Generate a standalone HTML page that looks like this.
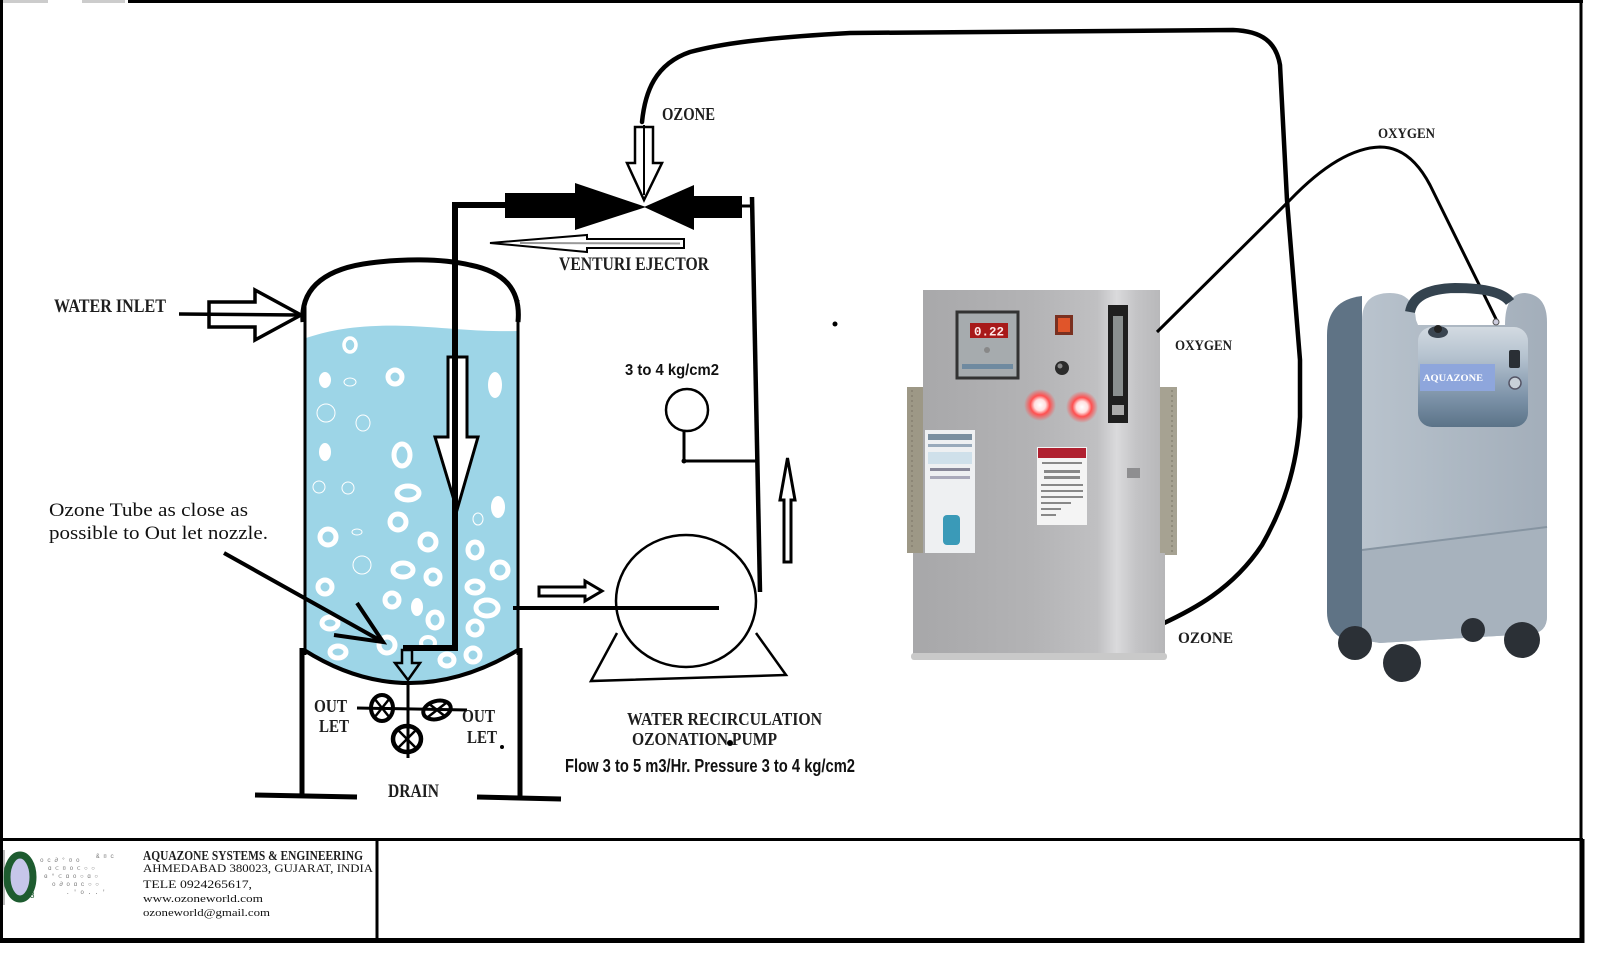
<!DOCTYPE html>
<html>
<head>
<meta charset="utf-8">
<style>
html,body{margin:0;padding:0;background:#fff;}
svg{display:block;}
.d{font-family:"Liberation Serif",serif;font-weight:bold;fill:#1e1e1e;}
.s{font-family:"Liberation Sans",sans-serif;font-weight:bold;fill:#111;}
.r{font-family:"Liberation Serif",serif;fill:#111;}
</style>
</head>
<body>
<svg width="1600" height="962" viewBox="0 0 1600 962" xmlns="http://www.w3.org/2000/svg">
<defs>
  <linearGradient id="panel" x1="923" y1="0" x2="1165" y2="0" gradientUnits="userSpaceOnUse">
    <stop offset="0" stop-color="#a8a8aa"/>
    <stop offset="0.45" stop-color="#b3b3b5"/>
    <stop offset="0.72" stop-color="#c0c0c2"/>
    <stop offset="0.8" stop-color="#dadadc"/>
    <stop offset="0.88" stop-color="#c4c4c6"/>
    <stop offset="1" stop-color="#b6b6b8"/>
  </linearGradient>
  <radialGradient id="glow">
    <stop offset="0" stop-color="#ffffff"/>
    <stop offset="0.35" stop-color="#ffe0e0"/>
    <stop offset="0.6" stop-color="#ff5050"/>
    <stop offset="1" stop-color="#ff5050" stop-opacity="0"/>
  </radialGradient>
  <linearGradient id="front" x1="0" y1="0" x2="1" y2="0">
    <stop offset="0" stop-color="#b9c3cd"/>
    <stop offset="0.5" stop-color="#adb8c3"/>
    <stop offset="1" stop-color="#a3aeba"/>
  </linearGradient>
  <linearGradient id="cpanel" x1="0" y1="0" x2="0" y2="1">
    <stop offset="0" stop-color="#d3dae1"/>
    <stop offset="0.3" stop-color="#b5c2cf"/>
    <stop offset="0.7" stop-color="#7d93a9"/>
    <stop offset="1" stop-color="#5b7388"/>
  </linearGradient>
</defs>

<!-- outer border -->
<line x1="128" y1="1.5" x2="1583" y2="1.5" stroke="#000" stroke-width="3"/>
<line x1="0" y1="1.5" x2="48" y2="1.5" stroke="#ccc" stroke-width="3"/>
<line x1="82" y1="1.5" x2="125" y2="1.5" stroke="#ccc" stroke-width="3"/>
<line x1="1.5" y1="0" x2="1.5" y2="943" stroke="#000" stroke-width="3"/>
<line x1="1581" y1="0" x2="1581" y2="943" stroke="#000" stroke-width="3"/>
<line x1="1582" y1="839" x2="1582" y2="943" stroke="#000" stroke-width="5"/>
<line x1="0" y1="839.5" x2="1583" y2="839.5" stroke="#000" stroke-width="3"/>
<line x1="0" y1="940.5" x2="1584" y2="940.5" stroke="#000" stroke-width="5"/>
<line x1="377" y1="839" x2="377" y2="940" stroke="#000" stroke-width="3"/>
<line x1="4" y1="850" x2="4" y2="905" stroke="#777" stroke-width="1"/>

<!-- ozone hose (top) -->
<path d="M642,122 C645,92 655,64 690,52 C720,44 760,38 850,33 L1233,30 C1262,31 1276,42 1280,65 L1287,200 L1300,360 L1300,417 C1297,470 1282,510 1262,545 C1232,590 1192,610 1162,624" fill="none" stroke="#000" stroke-width="4.5" stroke-linecap="round"/>

<!-- ozone down arrow -->
<path d="M635,127 L653,127 L653,163 L662,163 L644,200 L627,163 L635,163 Z" fill="#fff" stroke="#000" stroke-width="2.5" stroke-linejoin="miter"/>
<line x1="644" y1="125" x2="644" y2="195" stroke="#000" stroke-width="2"/>
<text x="662" y="120" class="d" font-size="18" textLength="53" lengthAdjust="spacingAndGlyphs">OZONE</text>

<!-- venturi -->
<rect x="505" y="193" width="72" height="25" fill="#000"/>
<polygon points="575,183 575,230 646,207" fill="#000"/>
<polygon points="694,185 694,230 644,207" fill="#000"/>
<rect x="694" y="196" width="48" height="22" fill="#000"/>
<path d="M740,206 L752,206" stroke="#000" stroke-width="3"/>
<!-- right vertical pipe -->
<path d="M752,197 L760,592" stroke="#000" stroke-width="4.5" fill="none"/>

<!-- venturi direction arrow -->
<polygon points="490,243 587,235 587,239 684,239 684,248 587,248 587,252" fill="#fff" stroke="#000" stroke-width="2"/>
<line x1="520" y1="243" x2="680" y2="243.5" stroke="#999" stroke-width="2"/>
<text x="559" y="270" class="d" font-size="19" textLength="150" lengthAdjust="spacingAndGlyphs">VENTURI EJECTOR</text>

<!-- tank water -->
<path d="M306,338 C330,330 360,324 410,326 C450,328 480,332 517,331 L517,652 Q408,716 306,652 Z" fill="#9dd5e7"/>
<!-- bubbles thick rings -->
<g fill="none" stroke="#fff">
  <ellipse cx="350" cy="345" rx="6" ry="7" stroke-width="3.5"/>
  <ellipse cx="395" cy="377" rx="7" ry="7" stroke-width="5"/>
  <ellipse cx="402" cy="455" rx="8" ry="11" stroke-width="5"/>
  <ellipse cx="408" cy="493" rx="11" ry="7" stroke-width="5"/>
  <ellipse cx="398" cy="522" rx="8" ry="8" stroke-width="5"/>
  <ellipse cx="328" cy="537" rx="8" ry="8" stroke-width="5"/>
  <ellipse cx="428" cy="542" rx="8" ry="8" stroke-width="5"/>
  <ellipse cx="403" cy="570" rx="10" ry="7" stroke-width="5"/>
  <ellipse cx="475" cy="550" rx="7" ry="8" stroke-width="5"/>
  <ellipse cx="500" cy="570" rx="8" ry="8" stroke-width="5"/>
  <ellipse cx="325" cy="587" rx="7" ry="7" stroke-width="5"/>
  <ellipse cx="433" cy="577" rx="7" ry="7" stroke-width="5"/>
  <ellipse cx="475" cy="587" rx="8" ry="6" stroke-width="5"/>
  <ellipse cx="392" cy="600" rx="7" ry="7" stroke-width="5"/>
  <ellipse cx="487" cy="608" rx="11" ry="8" stroke-width="5"/>
  <ellipse cx="435" cy="620" rx="7" ry="8" stroke-width="5"/>
  <ellipse cx="475" cy="628" rx="7" ry="7" stroke-width="5"/>
  <ellipse cx="330" cy="623" rx="8" ry="6" stroke-width="5"/>
  <ellipse cx="338" cy="652" rx="8" ry="6" stroke-width="5"/>
  <ellipse cx="387" cy="645" rx="8" ry="8" stroke-width="5"/>
  <ellipse cx="447" cy="660" rx="7" ry="6" stroke-width="5"/>
  <ellipse cx="473" cy="655" rx="7" ry="7" stroke-width="5"/>
  <ellipse cx="428" cy="643" rx="7" ry="6" stroke-width="4"/>
  <ellipse cx="350" cy="382" rx="6" ry="4" stroke-width="1"/>
  <ellipse cx="326" cy="413" rx="9" ry="9" stroke-width="1"/>
  <ellipse cx="363" cy="423" rx="7" ry="8" stroke-width="1"/>
  <ellipse cx="319" cy="487" rx="6" ry="6" stroke-width="1"/>
  <ellipse cx="348" cy="488" rx="6" ry="6" stroke-width="1"/>
  <ellipse cx="478" cy="519" rx="5" ry="6" stroke-width="1"/>
  <ellipse cx="357" cy="532" rx="5" ry="3" stroke-width="1"/>
  <ellipse cx="362" cy="565" rx="9" ry="9" stroke-width="1"/>
</g>
<g fill="#fff">
  <ellipse cx="325" cy="380" rx="6" ry="8"/>
  <ellipse cx="495" cy="385" rx="7" ry="13"/>
  <ellipse cx="325" cy="452" rx="6" ry="9"/>
  <ellipse cx="498" cy="507" rx="7" ry="11"/>
  <ellipse cx="417" cy="607" rx="6" ry="9"/>
</g>

<!-- tank outline -->
<path d="M303,322 C300,285 330,268 370,263 C400,259 440,258 470,265 C505,272 521,290 518,322" fill="none" stroke="#000" stroke-width="5"/>
<line x1="305" y1="300" x2="305" y2="655" stroke="#000" stroke-width="3"/>
<line x1="518" y1="300" x2="518" y2="655" stroke="#000" stroke-width="3"/>
<path d="M304,650 Q408,716 518,650" fill="none" stroke="#000" stroke-width="4"/>
<line x1="302" y1="648" x2="302" y2="798" stroke="#000" stroke-width="5"/>
<line x1="520" y1="648" x2="520" y2="800" stroke="#000" stroke-width="5"/>
<line x1="255" y1="795" x2="357" y2="797" stroke="#000" stroke-width="5"/>
<line x1="477" y1="797" x2="561" y2="799" stroke="#000" stroke-width="5"/>

<!-- big hollow arrow in tank -->
<path d="M448,357 L467,357 L467,437 L478,437 L457,510 L435,437 L448,437 Z" fill="#fff" stroke="#000" stroke-width="3"/>
<!-- ozone tube -->
<path d="M505,205 L455,205 L455,648 L403,648" fill="none" stroke="#000" stroke-width="6" stroke-linejoin="miter"/>
<!-- small down arrow -->
<path d="M402,650 L412,650 L412,663 L420,663 L408,680 L395,663 L402,663 Z" fill="none" stroke="#000" stroke-width="2.5"/>

<!-- water inlet -->
<text x="54" y="312" class="d" font-size="19" textLength="112" lengthAdjust="spacingAndGlyphs">WATER INLET</text>
<path d="M209,302 L255,302 L255,290 L301,315 L255,340 L255,327 L209,327 Z" fill="#fff" stroke="#000" stroke-width="3.5" stroke-linejoin="miter"/>
<line x1="179" y1="314" x2="299" y2="315" stroke="#000" stroke-width="3.5"/>

<!-- note -->
<text x="49" y="516" class="r" font-size="19" textLength="199" lengthAdjust="spacingAndGlyphs">Ozone Tube as close as</text>
<text x="49" y="539" class="r" font-size="19" textLength="219" lengthAdjust="spacingAndGlyphs">possible to Out let nozzle.</text>
<path d="M224,553 L383,642" stroke="#000" stroke-width="4" fill="none"/>
<path d="M357,603 L383,642 L334,635" stroke="#000" stroke-width="4" fill="none"/>

<!-- valves -->
<line x1="357" y1="708" x2="467" y2="710" stroke="#000" stroke-width="3"/>
<line x1="408" y1="682" x2="408" y2="758" stroke="#000" stroke-width="3"/>
<g fill="none" stroke="#000">
  <ellipse cx="382" cy="708" rx="11" ry="13" stroke-width="4"/>
  <line x1="374" y1="698" x2="390" y2="718" stroke-width="2.5"/>
  <line x1="390" y1="698" x2="374" y2="718" stroke-width="2.5"/>
  <ellipse cx="437" cy="710" rx="14" ry="9" stroke-width="4" transform="rotate(-15 437 710)"/>
  <line x1="428" y1="703" x2="446" y2="717" stroke-width="2.5"/>
  <line x1="446" y1="703" x2="428" y2="717" stroke-width="2.5"/>
  <ellipse cx="407" cy="739" rx="14" ry="13" stroke-width="4.5"/>
  <line x1="398" y1="730" x2="416" y2="748" stroke-width="2.5"/>
  <line x1="416" y1="730" x2="398" y2="748" stroke-width="2.5"/>
</g>
<text x="314" y="712" class="d" font-size="18" textLength="33" lengthAdjust="spacingAndGlyphs">OUT</text>
<text x="319" y="732" class="d" font-size="18" textLength="30" lengthAdjust="spacingAndGlyphs">LET</text>
<text x="462" y="722" class="d" font-size="18" textLength="33" lengthAdjust="spacingAndGlyphs">OUT</text>
<text x="467" y="743" class="d" font-size="18" textLength="30" lengthAdjust="spacingAndGlyphs">LET</text>
<circle cx="502" cy="747" r="2" fill="#000"/>
<text x="388" y="797" class="d" font-size="19" textLength="51" lengthAdjust="spacingAndGlyphs">DRAIN</text>

<!-- gauge -->
<text x="625" y="375" class="s" font-size="16" textLength="94" lengthAdjust="spacingAndGlyphs">3 to 4 kg/cm2</text>
<circle cx="687" cy="410" r="21" fill="none" stroke="#000" stroke-width="2.5"/>
<path d="M684,431 L684,461 L756,461" fill="none" stroke="#000" stroke-width="3"/>
<circle cx="684" cy="461" r="2.5" fill="#000"/>

<!-- up arrow -->
<path d="M784,500 L780,500 L787.5,458 L795,500 L791,500 L791,562 L784,562 Z" fill="#fff" stroke="#000" stroke-width="3"/>

<!-- pump -->
<path d="M539,587 L585,587 L585,581 L602,591 L585,601 L585,596 L539,596 Z" fill="#fff" stroke="#000" stroke-width="3"/>
<ellipse cx="686" cy="601" rx="70" ry="66" fill="none" stroke="#000" stroke-width="2.5"/>
<line x1="513" y1="608" x2="719" y2="608" stroke="#000" stroke-width="4"/>
<path d="M617,633 L591,681 L786,675 L756,633" fill="none" stroke="#000" stroke-width="2.5"/>
<text x="627" y="725" class="d" font-size="18" textLength="195" lengthAdjust="spacingAndGlyphs">WATER RECIRCULATION</text>
<text x="632" y="745" class="d" font-size="18" textLength="145" lengthAdjust="spacingAndGlyphs">OZONATION PUMP</text>
<circle cx="730" cy="743" r="3" fill="#000"/>
<text x="565" y="772" class="s" font-size="18" textLength="290" lengthAdjust="spacingAndGlyphs">Flow 3 to 5 m3/Hr. Pressure 3 to 4 kg/cm2</text>

<circle cx="835" cy="324" r="2.5" fill="#000"/>

<!-- ozone generator panel -->
<rect x="907" y="387" width="18" height="166" fill="#9d9886"/>
<rect x="1158" y="387" width="19" height="168" fill="#a6a292"/>
<g stroke="#7b7566" stroke-width="1" stroke-dasharray="2 3">
  <line x1="912" y1="390" x2="912" y2="550"/>
  <line x1="1172" y1="390" x2="1172" y2="552"/>
</g>
<rect x="923" y="290" width="237" height="265" fill="url(#panel)"/>
<rect x="913" y="553" width="252" height="102" fill="url(#panel)"/>
<rect x="911" y="653" width="256" height="7" rx="3" fill="#c9c9c9"/>
<!-- display -->
<rect x="957" y="312" width="61" height="66" fill="#a6abae" stroke="#333" stroke-width="3"/>
<rect x="970" y="323" width="38" height="15" fill="#a81a1a"/>
<text x="974" y="335.5" font-family="Liberation Mono,monospace" font-weight="bold" font-size="13" fill="#ffe8e8" textLength="30" lengthAdjust="spacingAndGlyphs">0.22</text>
<circle cx="987" cy="350" r="3" fill="#888"/>
<rect x="962" y="364" width="51" height="5" fill="#6f8aa0"/>
<!-- switch -->
<rect x="1055" y="315" width="18" height="20" fill="#7a3020"/>
<rect x="1058" y="318" width="12" height="14" fill="#e0552a"/>
<circle cx="1062" cy="368" r="7" fill="#2b2b2b"/>
<circle cx="1060" cy="366" r="2.5" fill="#888"/>
<!-- lights -->
<circle cx="1040" cy="405" r="16" fill="url(#glow)"/>
<circle cx="1082" cy="407" r="16" fill="url(#glow)"/>
<!-- flowmeter -->
<rect x="1108" y="305" width="20" height="118" fill="#1f1f1f"/>
<rect x="1113" y="316" width="10" height="80" fill="#8a8f8f"/>
<rect x="1112" y="405" width="12" height="10" fill="#aaa"/>
<!-- labels -->
<rect x="925" y="430" width="50" height="123" fill="#eef0f2"/>
<rect x="928" y="434" width="44" height="6" fill="#7a8fa0"/>
<rect x="928" y="444" width="44" height="3" fill="#9ab"/>
<rect x="928" y="452" width="44" height="12" fill="#cfe0ea"/>
<rect x="930" y="468" width="40" height="3" fill="#889"/>
<rect x="930" y="476" width="40" height="3" fill="#aab"/>
<rect x="943" y="515" width="17" height="30" rx="4" fill="#3a9ab8"/>
<rect x="1037" y="447" width="50" height="78" fill="#f4f4f4"/>
<rect x="1038" y="448" width="48" height="10" fill="#b02030"/>
<g fill="#888">
  <rect x="1042" y="462" width="40" height="2"/>
  <rect x="1044" y="470" width="36" height="3"/>
  <rect x="1044" y="476" width="36" height="3"/>
  <rect x="1041" y="484" width="42" height="2"/>
  <rect x="1041" y="490" width="42" height="2"/>
  <rect x="1041" y="496" width="42" height="2"/>
  <rect x="1041" y="502" width="30" height="2"/>
  <rect x="1041" y="508" width="20" height="2"/>
  <rect x="1041" y="514" width="15" height="2"/>
</g>
<rect x="1127" y="468" width="13" height="10" fill="#8e8e90"/>

<!-- oxygen hose -->
<path d="M1157,332 L1290,200 Q1340,148 1380,147 Q1410,147 1430,185 L1497,321" fill="none" stroke="#000" stroke-width="3"/>
<text x="1378" y="138" class="d" font-size="15" textLength="57" lengthAdjust="spacingAndGlyphs">OXYGEN</text>
<text x="1175" y="350" class="d" font-size="15" textLength="57" lengthAdjust="spacingAndGlyphs">OXYGEN</text>
<text x="1178" y="643" class="d" font-size="16" textLength="55" lengthAdjust="spacingAndGlyphs">OZONE</text>

<!-- oxygen concentrator -->
<path d="M1327,335 Q1327,300 1362,296 L1362,640 L1345,640 Q1327,632 1327,612 Z" fill="#5f7385"/>
<path d="M1362,640 L1362,320 Q1362,293 1390,293 Q1414,293 1416,320 L1418,325 L1505,325 Q1505,293 1525,293 Q1547,295 1547,322 L1547,616 Q1547,633 1530,634 L1380,643 Z" fill="url(#front)"/>
<path d="M1362,550 L1547,527 L1547,616 Q1547,633 1530,634 L1380,643 L1362,640 Z" fill="#a7b2bd"/>
<line x1="1362" y1="550" x2="1547" y2="527" stroke="#8694a1" stroke-width="2"/>
<path d="M1410,312 Q1414,289 1455,288 Q1500,288 1510,302" fill="none" stroke="#34434f" stroke-width="10"/>
<rect x="1418" y="327" width="110" height="100" rx="14" fill="url(#cpanel)"/>
<rect x="1420" y="364" width="75" height="27" fill="#8ea6dc"/>
<text x="1423" y="381" font-family="Liberation Serif,serif" font-weight="bold" font-size="9" fill="#fff" textLength="60" lengthAdjust="spacingAndGlyphs">AQUAZONE</text>
<ellipse cx="1438" cy="332" rx="10" ry="6" fill="#3a4550"/>
<ellipse cx="1438" cy="329" rx="4" ry="4" fill="#222"/>
<circle cx="1496" cy="322" r="3" fill="#ccd" stroke="#555"/>
<rect x="1509" y="350" width="11" height="18" rx="2" fill="#2a2f35"/>
<circle cx="1515" cy="383" r="6" fill="#c8d0d8" stroke="#556" stroke-width="1.5"/>
<circle cx="1473" cy="630" r="12" fill="#2b3036"/>
<circle cx="1355" cy="643" r="17" fill="#2b3036"/>
<circle cx="1402" cy="663" r="19" fill="#2b3036"/>
<circle cx="1522" cy="640" r="18" fill="#2b3036"/>

<!-- footer logo -->
<ellipse cx="20" cy="877" rx="13" ry="22" fill="#c6c6ea" stroke="#1d5b2f" stroke-width="7"/>
<text x="30" y="898" font-family="Liberation Sans,sans-serif" font-size="8" fill="#1d5b2f">3</text>
<g fill="#777" font-family="Liberation Mono,monospace" font-size="6">
  <text x="40" y="862">o c ∂ ° ¤ o</text>
  <text x="48" y="870">ɑ ⊂ ¤ o ⊂ ○ ○</text>
  <text x="44" y="878">ɞ ° ⊂ ɑ o ○ ɑ ○</text>
  <text x="52" y="886">o ∂ o ɑ c ○ ○</text>
  <text x="66" y="894">. ' o . . '</text>
  <text x="96" y="858">& ¤ c</text>
</g>
<!-- footer text -->
<text x="143" y="860" class="d" font-size="14" textLength="220" lengthAdjust="spacingAndGlyphs">AQUAZONE SYSTEMS &amp; ENGINEERING</text>
<text x="143" y="872" class="r" font-size="12" textLength="230" lengthAdjust="spacingAndGlyphs">AHMEDABAD 380023, GUJARAT, INDIA</text>
<text x="143" y="888" class="r" font-size="12" textLength="109" lengthAdjust="spacingAndGlyphs">TELE 0924265617,</text>
<text x="143" y="902" class="r" font-size="11" textLength="120" lengthAdjust="spacingAndGlyphs">www.ozoneworld.com</text>
<text x="143" y="916" class="r" font-size="11" textLength="127" lengthAdjust="spacingAndGlyphs">ozoneworld@gmail.com</text>
</svg>
</body>
</html>
